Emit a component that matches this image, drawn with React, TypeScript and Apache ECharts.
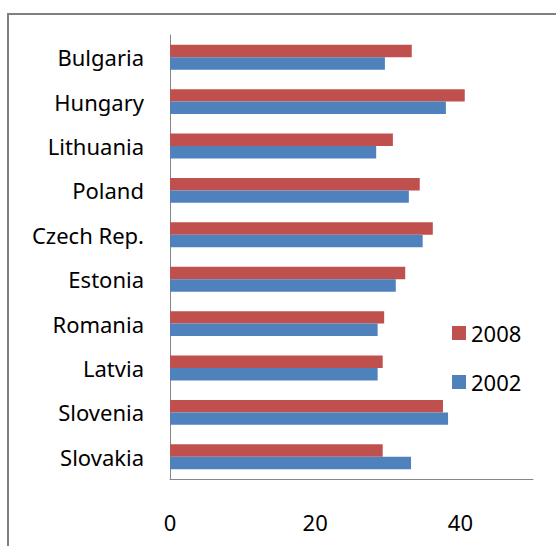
import React, { useEffect, useRef } from "react";
import * as echarts from "echarts";

const categories = ["Bulgaria", "Hungary", "Lithuania", "Poland", "Czech Rep.", "Estonia", "Romania", "Latvia", "Slovenia", "Slovakia"];
const values2008 = [33.3, 40.6, 30.7, 34.4, 36.2, 32.4, 29.5, 29.3, 37.6, 29.3];
const values2002 = [29.6, 38.0, 28.4, 32.9, 34.8, 31.1, 28.6, 28.6, 38.3, 33.2];
const seriesNames = ["2008", "2002"];
const FONT = "'Noto Sans', sans-serif";

export default function App() {
  const ref = useRef<HTMLDivElement>(null);
  useEffect(() => {
    document.body.style.margin = "0";
    const chart = echarts.init(ref.current!, null, { renderer: "svg" });
    chart.setOption({
      animation: false,
      backgroundColor: "#ffffff",
      textStyle: { fontFamily: FONT },
      grid: { left: 170, right: 23, top: 35, bottom: 67, containLabel: false },
      legend: {
        orient: "vertical",
        left: 447,
        top: 317,
        itemWidth: 14,
        itemHeight: 14,
        itemGap: 27,
        icon: "rect",
        data: seriesNames,
        textStyle: { fontSize: 22, color: "#000", fontFamily: FONT },
      },
      xAxis: {
        type: "value",
        min: 0,
        max: 50,
        interval: 20,
        splitLine: { show: false },
        axisLine: { show: true, lineStyle: { color: "#868686", width: 1 } },
        axisTick: { show: false },
        axisLabel: {
          fontSize: 22,
          color: "#000",
          margin: 32,
          fontFamily: FONT,
          showMaxLabel: false,
          formatter: (v: number) => (v % 20 === 0 ? String(v) : ""),
        },
      },
      yAxis: {
        type: "category",
        inverse: true,
        data: categories,
        axisLine: { show: true, lineStyle: { color: "#868686", width: 1 } },
        axisTick: { show: false },
        axisLabel: { fontSize: 22, color: "#000", margin: 26, fontFamily: FONT },
      },
      series: [
        {
          name: seriesNames[0],
          type: "bar",
          data: values2008,
          itemStyle: { color: "#C0504D" },
          barGap: "0%",
          barCategoryGap: "44%",
        },
        {
          name: seriesNames[1],
          type: "bar",
          data: values2002,
          itemStyle: { color: "#4F81BD" },
          barGap: "0%",
          barCategoryGap: "44%",
        },
      ],
      graphic: [
        {
          type: "rect",
          shape: { x: 8, y: 14, width: 700, height: 700 },
          style: { fill: "none", stroke: "#808080", lineWidth: 2 },
          silent: true,
        },
      ],
    });
    return () => chart.dispose();
  }, []);
  return <div ref={ref} style={{ width: 556, height: 546 }} />;
}
